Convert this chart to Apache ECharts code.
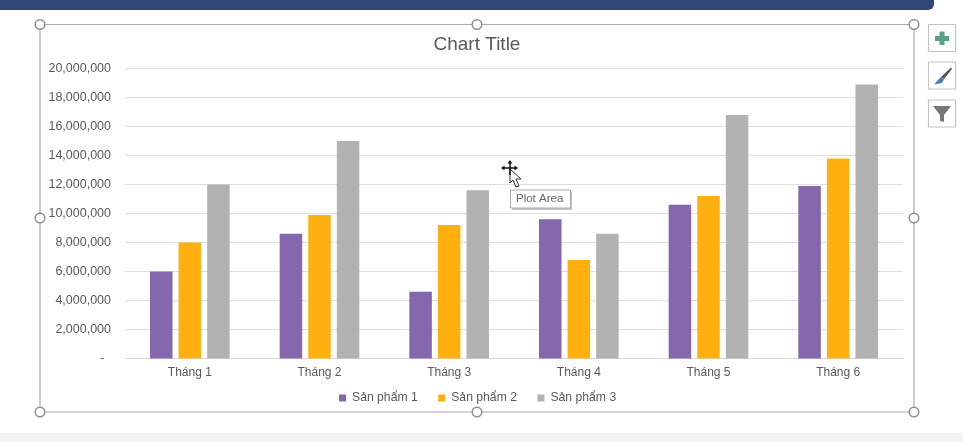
<!DOCTYPE html>
<html>
<head>
<meta charset="utf-8">
<style>html,body{margin:0;padding:0;background:#fff}#c{width:963px;height:442px}</style>
<script src="https://cdn.jsdelivr.net/npm/echarts@6/dist/echarts.min.js"></script>
</head>
<body>
<div id="c"></div>
<script>
const categories = ['Tháng 1','Tháng 2','Tháng 3','Tháng 4','Tháng 5','Tháng 6'];
const sanPham1 = [6000000, 8600000, 4600000, 9600000, 10600000, 11900000];
const sanPham2 = [8000000, 9900000, 9200000, 6800000, 11200000, 13800000];
const sanPham3 = [12000000, 15000000, 11600000, 8600000, 16800000, 18900000];
const seriesNames = ['Sản phẩm 1','Sản phẩm 2','Sản phẩm 3'];
const colors = ['#8567AE','#FFB00F','#B2B2B2'];
const font = '"Liberation Sans", Arial, sans-serif';

const handles = [[40,24.5],[477,24.5],[914,24.5],[40,218],[914,218],[40,412],[477,412],[914,412]];
const deco = [
  {type:'rect',silent:true,z:0,shape:{x:-10,y:-10,width:944,height:20,r:[0,0,6,0]},style:{fill:'#2F4676'}},
  {type:'rect',silent:true,z:0,shape:{x:0,y:433,width:963,height:9},style:{fill:'#F3F3F3'}},
  {type:'rect',silent:true,z:0,shape:{x:40,y:24.5,width:874,height:387.5},style:{fill:'none',stroke:'#ABABAB',lineWidth:1.2}},
  ...handles.map(p=>({type:'circle',silent:true,z:5,shape:{cx:p[0],cy:p[1],r:4.8},style:{fill:'#fff',stroke:'#8E8E8E',lineWidth:1.5}})),
  ...[24.5,62,100].map(y=>({type:'rect',silent:true,z:5,shape:{x:928.5,y:y,width:27,height:27},style:{fill:'#fff',stroke:'#C4C4C4',lineWidth:1.2}})),
  {type:'polygon',silent:true,z:6,shape:{points:[[939.5,31.5],[944.5,31.5],[944.5,36],[949,36],[949,41],[944.5,41],[944.5,45],[939.5,45],[939.5,41],[935,41],[935,36],[939.5,36]]},style:{fill:'#5FA08C'}},
  {type:'polygon',silent:true,z:6,shape:{points:[[951,67.5],[952,69],[944,79],[941,77]]},style:{fill:'#555'}},
  {type:'polygon',silent:true,z:6,shape:{points:[[941,77],[944,79.5],[942,83],[934,84.5],[937,81]]},style:{fill:'#4A7EBB'}},
  {type:'polygon',silent:true,z:6,shape:{points:[[933,106],[951,106],[944,115],[944,122],[940,121],[940,115]]},style:{fill:'#777'}},
  {type:'rect',silent:true,z:6,shape:{x:512,y:192,width:60,height:18},style:{fill:'#C4C4C4'}},
  {type:'rect',silent:true,z:7,shape:{x:510.5,y:190,width:60,height:18},style:{fill:'#fff',stroke:'#A8A8A8',lineWidth:1}},
  {type:'text',silent:true,z:8,style:{x:516,y:199,text:'Plot Area',fill:'#666666',font:'11.5px '+font,verticalAlign:'middle'}},
  {type:'polygon',silent:true,z:8,shape:{points:[[510,169],[510,183],[513,180],[516,187],[519,186],[516,179],[521,179]]},style:{fill:'#fff',stroke:'#333',lineWidth:1}},
  {type:'line',silent:true,z:8,shape:{x1:502,y1:168,x2:516,y2:168},style:{stroke:'#111',lineWidth:1.5}},
  {type:'line',silent:true,z:8,shape:{x1:510,y1:161,x2:510,y2:175},style:{stroke:'#111',lineWidth:1.5}},
  {type:'polygon',silent:true,z:8,shape:{points:[[510,160],[507.5,163.5],[512.5,163.5]]},style:{fill:'#111'}},
  {type:'polygon',silent:true,z:8,shape:{points:[[501,168],[504.5,165.5],[504.5,170.5]]},style:{fill:'#111'}},
  {type:'polygon',silent:true,z:8,shape:{points:[[518,168],[514.5,165.5],[514.5,170.5]]},style:{fill:'#111'}}
];

const values = [sanPham1, sanPham2, sanPham3];
const chart = echarts.init(document.getElementById('c'), null, {renderer:'canvas'});
chart.setOption({
  animation:false,
  backgroundColor:'#fff',
  textStyle:{fontFamily:font},
  title:{text:'Chart Title',left:428.5,top:30.5,textStyle:{fontSize:19,fontWeight:'normal',color:'#595959',fontFamily:font}},
  grid:{left:125,right:60,top:68.5,bottom:83.5,containLabel:false},
  legend:{
    data:seriesNames,left:334,top:387,itemWidth:7,itemHeight:7,itemGap:20.5,icon:'rect',
    textStyle:{fontSize:12.2,color:'#595959',fontFamily:font,padding:[0,0,0,1]}
  },
  xAxis:{
    type:'category',data:categories,
    axisTick:{show:false},
    axisLine:{lineStyle:{color:'#D9D9D9',width:1}},
    axisLabel:{fontSize:12,color:'#595959',margin:8,fontFamily:font}
  },
  yAxis:{
    type:'value',min:0,max:20000000,interval:2000000,
    axisLine:{show:false},axisTick:{show:false},
    splitLine:{lineStyle:{color:'#DEDEDE',width:1}},
    axisLabel:{fontSize:12.5,color:'#595959',margin:14,fontFamily:font,
      formatter:v=>v===0?'-  ':v.toLocaleString('en-US')}
  },
  series:seriesNames.map((n,i)=>({
    name:n,type:'bar',data:values[i],barWidth:22.5,barGap:'27%',
    itemStyle:{color:colors[i]}
  })),
  graphic:{elements:deco}
});
</script>
</body>
</html>
